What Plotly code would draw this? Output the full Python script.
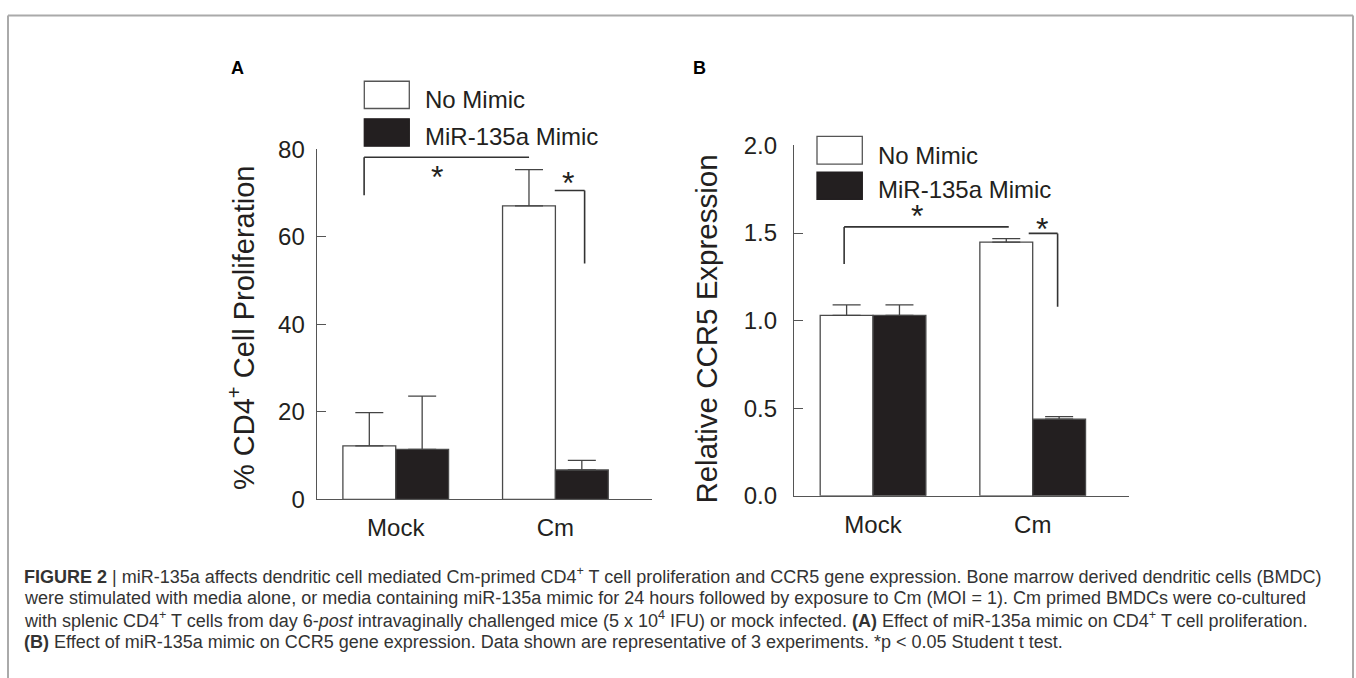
import plotly.graph_objects as go

# ---------------- data ----------------
categories = ["Mock", "Cm"]
series_names = ["No Mimic", "MiR-135a Mimic"]

# Panel A: % CD4+ cell proliferation
a_no_mimic = [12.2, 67.1]
a_no_mimic_err = [7.6, 8.3]
a_mir = [11.4, 6.7]
a_mir_err = [12.2, 2.2]

# Panel B: relative CCR5 expression
b_no_mimic = [1.03, 1.448]
b_no_mimic_err = [0.06, 0.02]
b_mir = [1.03, 0.437]
b_mir_err = [0.06, 0.015]

a_yticks = [0, 20, 40, 60, 80]
b_yticks = [0.0, 0.5, 1.0, 1.5, 2.0]
b_yticklabels = ["0.0", "0.5", "1.0", "1.5", "2.0"]

# significance brackets (data units): (x_left, x_right, y_top, y_drop_bottom, star_x, star_y, drop side)
a_brackets = [(-0.198, 0.835, 78.2, 69.5, 0.261, 74.5, "left"),
              (0.996, 1.183, 70.6, 53.9, 1.079, 73.3, "right")]
b_brackets = [(-0.181, 0.85, 1.535, 1.323, 0.2775, 1.621, "left"),
              (0.975, 1.156, 1.498, 1.079, 1.059, 1.545, "right")]

W, H = 1356, 678
# the photographed page is shown slightly compressed vertically; compensate
Y_OFF, Y_SCALE = 13.3, 0.962
TXT = "#231f20"
AX = "#555555"
AXIS_FONT = "Liberation Sans, Arial, Helvetica, sans-serif"
CAP_FONT = "Liberation Sans, Arial, Helvetica, sans-serif"

def px(x):
    return x / W

def py(y):
    yp = (y - Y_OFF) / Y_SCALE
    return 1 - yp / H

xpos = list(range(len(categories)))

fig = go.Figure()

def add_bars(xa, ya, vals1, err1, vals2, err2):
    for name, vals, err, fill in [(series_names[0], vals1, err1, "white"),
                                  (series_names[1], vals2, err2, "#231f20")]:
        fig.add_trace(go.Bar(
            x=xpos, y=vals, name=name, xaxis=xa, yaxis=ya,
            marker=dict(color=fill, line=dict(color="#4a4a4a", width=1.3)),
            error_y=dict(type="data", symmetric=False, array=err,
                         arrayminus=[0] * len(err), color="#444444",
                         thickness=1.3, width=14),
            showlegend=False,
        ))

add_bars("x", "y", a_no_mimic, a_no_mimic_err, a_mir, a_mir_err)
add_bars("x2", "y2", b_no_mimic, b_no_mimic_err, b_mir, b_mir_err)

xr = [-0.495, 1.605]
common_x = dict(range=xr, tickvals=xpos, ticktext=categories, showline=True,
                linecolor=AX, linewidth=1.3, ticks="", showgrid=False, zeroline=False,
                tickfont=dict(family=AXIS_FONT, size=24, color=TXT), fixedrange=True,
                ticklabelstandoff=7)
common_y = dict(showline=True, linecolor=AX, linewidth=1.3, ticks="inside", ticklen=9,
                tickcolor=AX, tickwidth=1.3, showgrid=False, zeroline=False,
                tickfont=dict(family=AXIS_FONT, size=24, color=TXT))

fig.update_layout(
    width=W, height=H, margin=dict(l=0, r=0, t=0, b=0),
    paper_bgcolor="white", plot_bgcolor="white",
    barmode="group", bargap=0.338, bargroupgap=0,
    xaxis=dict(domain=[px(316.7), px(652)], anchor="y", **common_x),
    yaxis=dict(domain=[py(499.5), py(149)], anchor="x", range=[0, 80],
               tickvals=a_yticks, ticklabelstandoff=6, **common_y),
    xaxis2=dict(domain=[px(794), px(1129.3)], anchor="y2", **common_x),
    yaxis2=dict(domain=[py(496), py(145)], anchor="x2", range=[0, 2.0],
                tickvals=b_yticks, ticktext=b_yticklabels, ticklabelstandoff=11, **common_y),
    showlegend=False,
)

shapes = []
annotations = []

# brackets and stars
for xa, ya, brackets in [("x", "y", a_brackets), ("x2", "y2", b_brackets)]:
    for (x0, x1, ytop, ybot, sx, sy, side) in brackets:
        shapes.append(dict(type="line", xref=xa, yref=ya, x0=x0, x1=x1, y0=ytop, y1=ytop,
                           line=dict(color="#333333", width=1.6)))
        vx = x0 if side == "left" else x1
        shapes.append(dict(type="line", xref=xa, yref=ya, x0=vx, x1=vx, y0=ytop, y1=ybot,
                           line=dict(color="#333333", width=1.6)))
        annotations.append(dict(xref=xa, yref=ya, x=sx, y=sy, text="*", showarrow=False,
                                font=dict(family=AXIS_FONT, size=32, color=TXT),
                                xanchor="center", yanchor="middle", yshift=-4))

# y-axis titles
annotations.append(dict(xref="x domain", yref="y domain", x=0, y=0.5, xshift=-75, yshift=-3,
                        text="% CD4<sup>+</sup> Cell Proliferation", textangle=-90,
                        showarrow=False, xanchor="center", yanchor="middle",
                        font=dict(family=AXIS_FONT, size=29, color=TXT)))
annotations.append(dict(xref="x2 domain", yref="y2 domain", x=0, y=0.5, xshift=-87, yshift=-9,
                        text="Relative CCR5 Expression", textangle=-90,
                        showarrow=False, xanchor="center", yanchor="middle",
                        font=dict(family=AXIS_FONT, size=29.5, color=TXT)))

# custom legends (large swatches)
def add_legend(bx0, bx1, w_y0, w_y1, k_y0, k_y1, tx, ty1, ty2):
    shapes.append(dict(type="rect", xref="paper", yref="paper", x0=px(bx0), x1=px(bx1),
                       y0=py(w_y1), y1=py(w_y0), fillcolor="white",
                       line=dict(color="#555555", width=1.3)))
    shapes.append(dict(type="rect", xref="paper", yref="paper", x0=px(bx0), x1=px(bx1),
                       y0=py(k_y1), y1=py(k_y0), fillcolor="#231f20",
                       line=dict(color="#231f20", width=1.3)))
    for name, ty in [(series_names[0], ty1), (series_names[1], ty2)]:
        annotations.append(dict(xref="paper", yref="paper", x=px(tx), y=py(ty), text=name,
                                showarrow=False, xanchor="left", yanchor="middle",
                                font=dict(family=AXIS_FONT, size=24, color=TXT)))

add_legend(364.3, 409.3, 80.7, 108, 118.3, 145.7, 423, 99, 136)
add_legend(817, 862.3, 136, 163.7, 171.7, 199, 875.5, 155, 189)

# panel letters
for letter, lx in [("A", 237), ("B", 700)]:
    annotations.append(dict(xref="paper", yref="paper", x=px(lx), y=py(67), text=f"<b>{letter}</b>",
                            showarrow=False, xanchor="center", yanchor="middle",
                            font=dict(family=AXIS_FONT, size=18, color="black")))

# caption
caption_lines = [
    "<b>FIGURE 2</b> | miR-135a affects dendritic cell mediated Cm-primed CD4<sup>+</sup> T cell proliferation and CCR5 gene expression. Bone marrow derived dendritic cells (BMDC)",
    "were stimulated with media alone, or media containing miR-135a mimic for 24 hours followed by exposure to Cm (MOI = 1). Cm primed BMDCs were co-cultured",
    "with splenic CD4<sup>+</sup> T cells from day 6-<i>post</i> intravaginally challenged mice (5 x 10<sup>4</sup> IFU) or mock infected. <b>(A)</b> Effect of miR-135a mimic on CD4<sup>+</sup> T cell proliferation.",
    "<b>(B)</b> Effect of miR-135a mimic on CCR5 gene expression. Data shown are representative of 3 experiments. *p < 0.05 Student t test.",
]
for i, line in enumerate(caption_lines):
    annotations.append(dict(xref="paper", yref="paper", x=px(22), y=py(576 + 22 * i), text=line,
                            showarrow=False, xanchor="left", yanchor="middle", align="left",
                            font=dict(family=CAP_FONT, size=18, color="#333333")))

# frame border (top, left, right)
border = dict(color="#aaaaaa", width=2)
top_border = min(py(9.5), 1 - 1.5 / H)
shapes.append(dict(type="line", xref="paper", yref="paper", x0=px(8), x1=px(1353), y0=top_border, y1=top_border, line=border))
shapes.append(dict(type="line", xref="paper", yref="paper", x0=px(8), x1=px(8), y0=top_border, y1=-0.05, line=border))
shapes.append(dict(type="line", xref="paper", yref="paper", x0=px(1353), x1=px(1353), y0=top_border, y1=-0.05, line=border))

fig.update_layout(shapes=shapes, annotations=annotations)

page_fix = ("document.body.style.margin='0';document.body.style.padding='0';"
            "document.body.style.overflow='hidden';"
            "var d=document.getElementById('{plot_id}');"
            "d.style.position='absolute';d.style.left='0px';d.style.top='0px';")

fig.write_html("out.html", post_script=page_fix, config={"displayModeBar": False})
